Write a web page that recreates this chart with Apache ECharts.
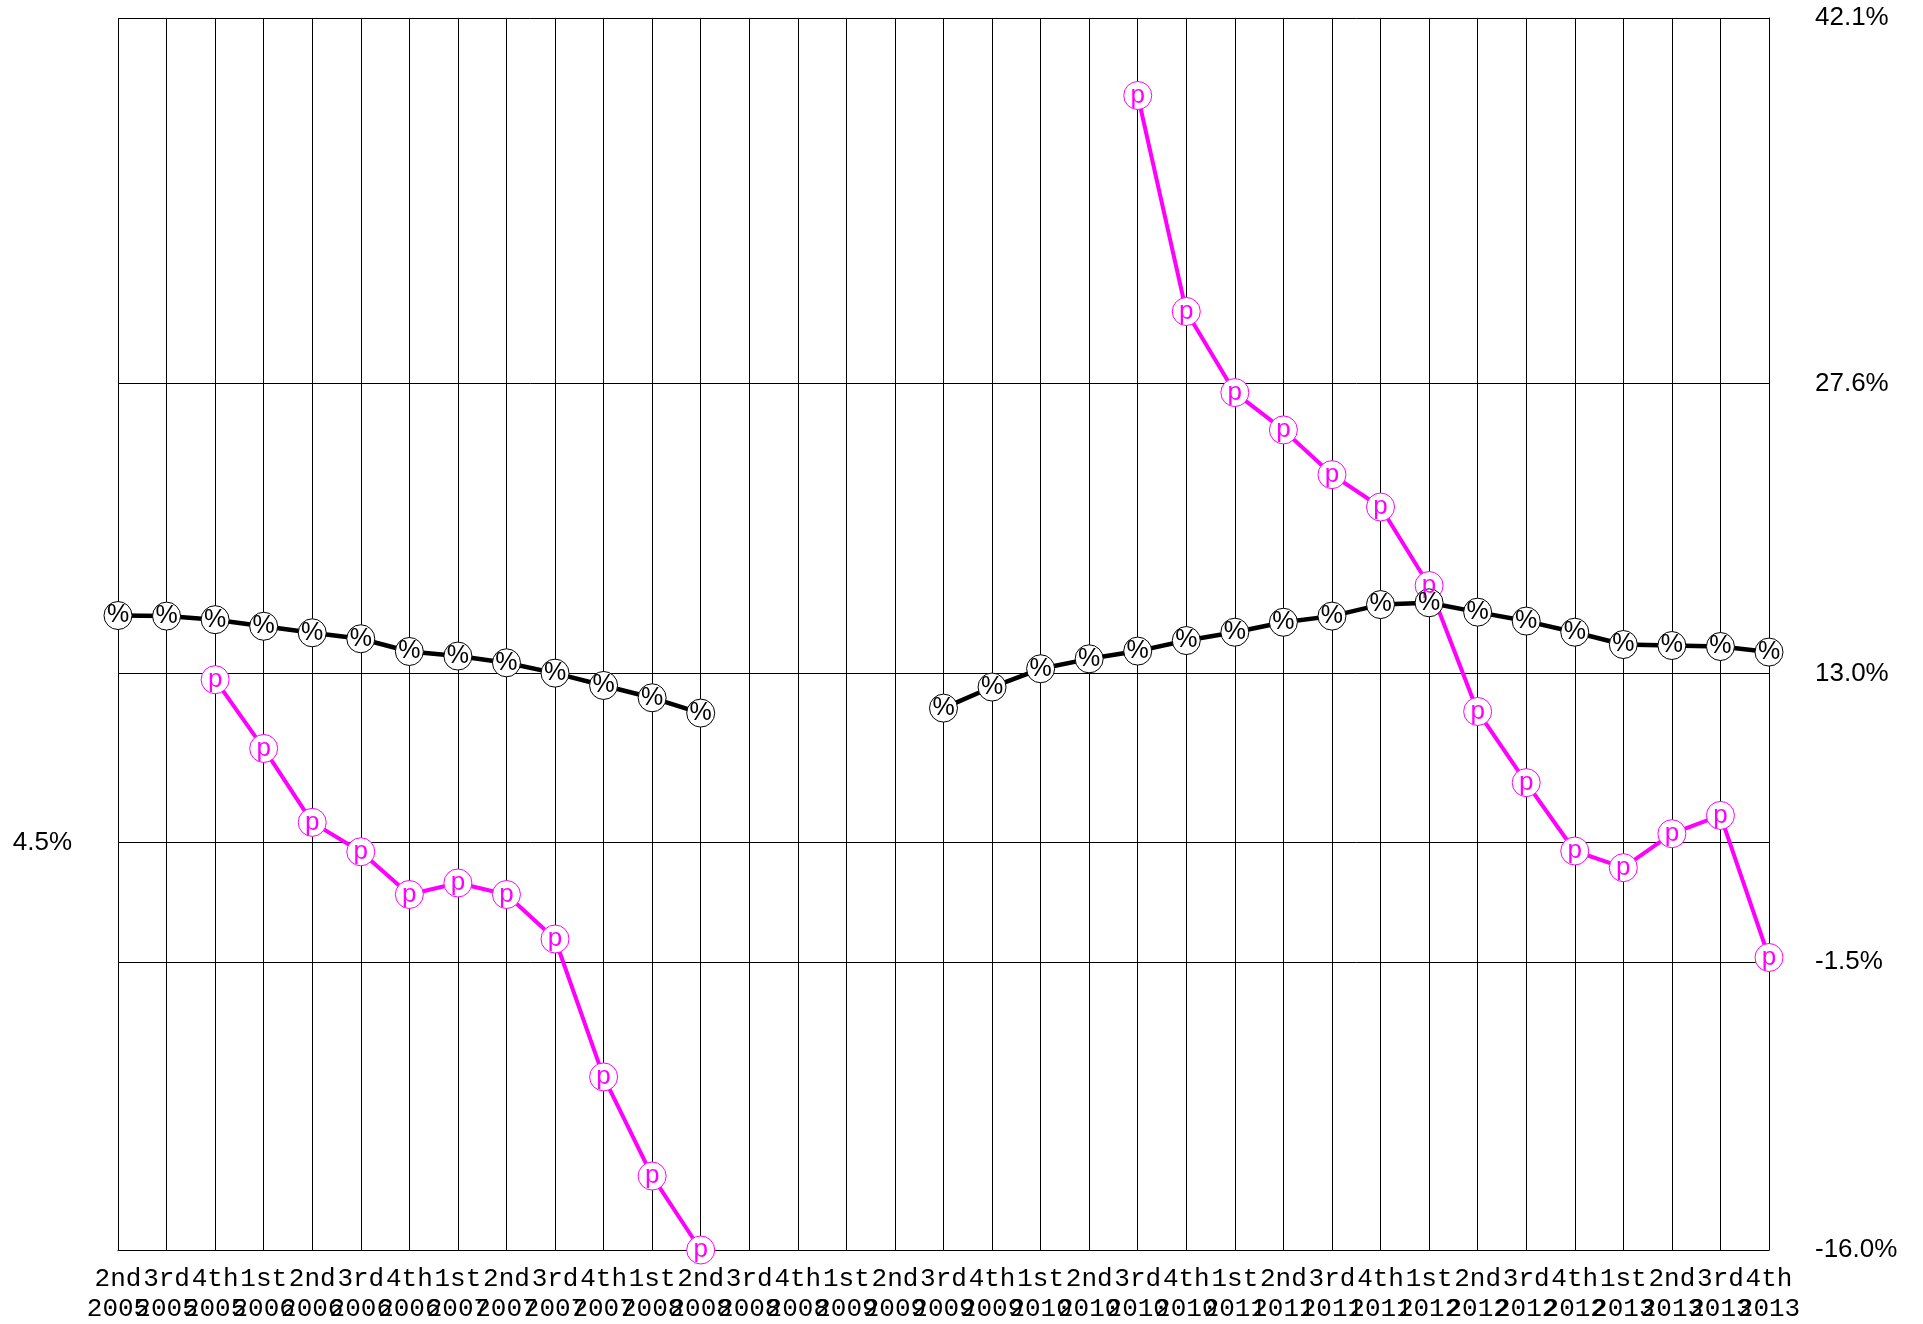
<!DOCTYPE html>
<html>
<head>
<meta charset="utf-8">
<script src="https://cdn.jsdelivr.net/npm/echarts@6/dist/echarts.min.js"></script>
<style>
  html, body { margin: 0; padding: 0; background: #fff; }
  #chart { width: 1923px; height: 1324px; }
</style>
</head>
<body>
<div id="chart"></div>
<script>
// Categories (quarter / year)
const quarters = ['2nd','3rd','4th','1st','2nd','3rd','4th','1st','2nd','3rd','4th','1st','2nd','3rd','4th','1st','2nd','3rd','4th','1st','2nd','3rd','4th','1st','2nd','3rd','4th','1st','2nd','3rd','4th','1st','2nd','3rd','4th'];
const years = ['2005','2005','2005','2006','2006','2006','2006','2007','2007','2007','2007','2008','2008','2008','2008','2009','2009','2009','2009','2010','2010','2010','2010','2011','2011','2011','2011','2012','2012','2012','2012','2013','2013','2013','2013'];

// Series values (percent)
const pctSeries = [15.93, 15.90, 15.72, 15.39, 15.06, 14.76, 14.12, 13.89, 13.55, 13.03, 12.41, 11.79, 11.02,
  null, null, null, null,
  11.27, 12.33, 13.25, 13.75, 14.14, 14.67, 15.09, 15.59, 15.90, 16.48, 16.57, 16.10, 15.65, 15.09, 14.47, 14.42, 14.37, 14.09];
const pSeries = [null, null, 12.70, 9.24, 5.52, 4.04, 1.89, 2.47, 1.89, -0.35, -7.29, -12.28, -16.0,
  null, null, null, null, null, null, null, null,
  42.10, 31.23, 27.15, 25.27, 23.02, 21.39, 17.44, 11.10, 7.52, 4.08, 3.24, 4.95, 5.87, -1.28];

// Axis ticks
const yMin = -16.0;
const yMax = 46.0;
const rightTickValues = [-16.0, -1.5, 13.0, 27.6, 46.0];
const rightTickLabels = ['-16.0%', '-1.5%', '13.0%', '27.6%', '42.1%'];
const leftTickValues = [4.5];
const leftTickLabels = ['4.5%'];

const categories = quarters.map((q, i) => q + '\n' + years[i]);

function labelFor(values, labels) {
  return function (v) {
    for (let i = 0; i < values.length; i++) {
      if (Math.abs(values[i] - v) < 1e-6) return labels[i];
    }
    return '';
  };
}

const chart = echarts.init(document.getElementById('chart'), null, { renderer: 'canvas' });
chart.setOption({
  animation: false,
  backgroundColor: '#ffffff',
  grid: { left: 118, right: 154, top: 18, bottom: 73, containLabel: false },
  xAxis: {
    type: 'category',
    data: categories,
    boundaryGap: false,
    axisLine: { show: true, onZero: false, lineStyle: { color: '#000', width: 1 } },
    axisTick: { show: false },
    splitLine: { show: true, interval: 0, lineStyle: { color: '#000', width: 1 } },
    axisLabel: {
      interval: 0,
      margin: 14,
      fontFamily: '"Liberation Mono", "DejaVu Sans Mono", monospace',
      fontSize: 26,
      lineHeight: 30,
      color: '#000'
    }
  },
  yAxis: [
    {
      type: 'value',
      position: 'right',
      min: yMin,
      max: yMax,
      axisLine: { show: true, lineStyle: { color: '#000', width: 1 } },
      axisTick: { show: false, customValues: rightTickValues },
      splitLine: { show: true, lineStyle: { color: '#000', width: 1 } },
      axisLabel: {
        customValues: rightTickValues,
        formatter: labelFor(rightTickValues, rightTickLabels),
        margin: 46,
        fontFamily: '"Liberation Sans", Arial, sans-serif',
        fontSize: 26,
        color: '#000'
      }
    },
    {
      type: 'value',
      position: 'left',
      min: yMin,
      max: yMax,
      axisLine: { show: false },
      axisTick: { show: false, customValues: leftTickValues },
      splitLine: { show: true, lineStyle: { color: '#000', width: 1 } },
      axisLabel: {
        customValues: leftTickValues,
        formatter: labelFor(leftTickValues, leftTickLabels),
        margin: 46,
        fontFamily: '"Liberation Sans", Arial, sans-serif',
        fontSize: 26,
        color: '#000'
      }
    }
  ],
  series: [
    {
      name: 'p',
      type: 'line',
      yAxisIndex: 0,
      data: pSeries,
      connectNulls: false,
      symbol: 'circle',
      symbolSize: 28,
      showAllSymbol: true,
      lineStyle: { color: '#ff00ff', width: 4 },
      itemStyle: { color: '#ffffff', borderColor: '#ff00ff', borderWidth: 1 },
      label: {
        show: true,
        position: 'inside',
        formatter: 'p',
        color: '#ff00ff',
        fontFamily: '"Liberation Sans", Arial, sans-serif',
        fontSize: 26
      },
      emphasis: { disabled: true }
    },
    {
      name: '%',
      type: 'line',
      yAxisIndex: 0,
      data: pctSeries,
      connectNulls: false,
      symbol: 'circle',
      symbolSize: 28,
      showAllSymbol: true,
      lineStyle: { color: '#000000', width: 4.5 },
      itemStyle: { color: '#ffffff', borderColor: '#000000', borderWidth: 1 },
      label: {
        show: true,
        position: 'inside',
        formatter: '%',
        color: '#000000',
        fontFamily: '"Liberation Sans", Arial, sans-serif',
        fontSize: 25
      },
      emphasis: { disabled: true }
    }
  ]
});
</script>
</body>
</html>
